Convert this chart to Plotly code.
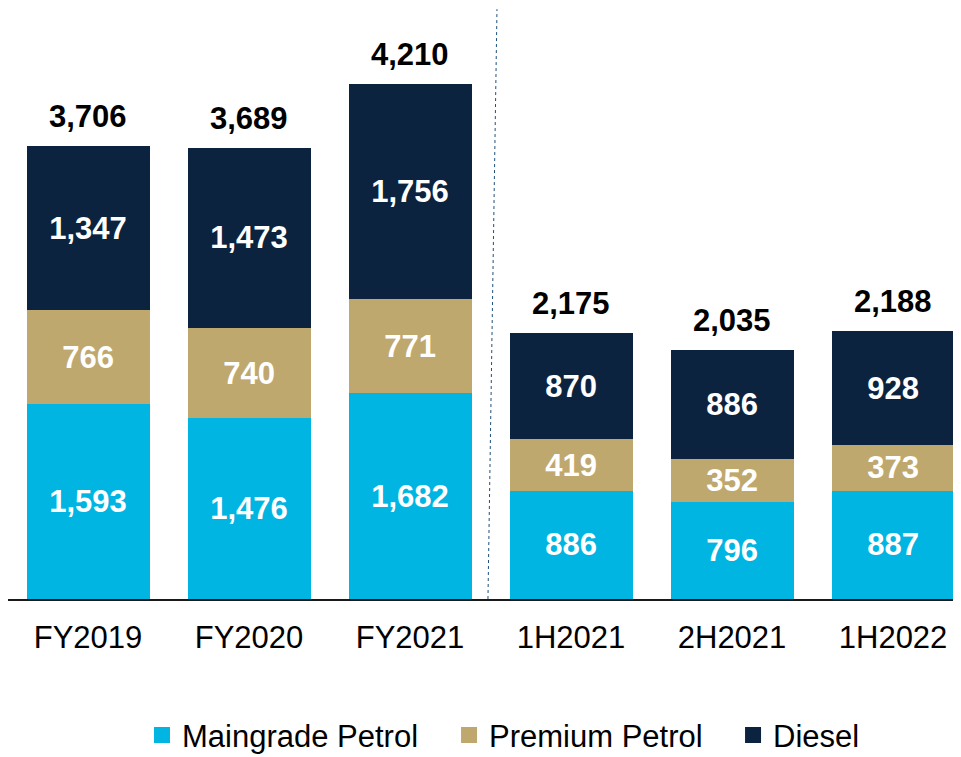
import plotly.graph_objects as go

categories = ["FY2019", "FY2020", "FY2021", "1H2021", "2H2021", "1H2022"]
maingrade = [1593, 1476, 1682, 886, 796, 887]
premium = [766, 740, 771, 419, 352, 373]
diesel = [1347, 1473, 1756, 870, 886, 928]
totals = [3706, 3689, 4210, 2175, 2035, 2188]

series_names = ["Maingrade Petrol", "Premium Petrol", "Diesel"]
series_values = [maingrade, premium, diesel]
colors = ["#00B5E2", "#BFA86E", "#0C2340"]

FONT = "Liberation Sans, Arial, sans-serif"
FS = 31

fig = go.Figure()
for name, vals, col in zip(series_names, series_values, colors):
    fig.add_trace(go.Bar(
        x=categories, y=vals, name=name, marker_color=col, marker_line_width=0,
        text=[f"{v:,}" for v in vals], textposition="inside",
        insidetextanchor="middle",
        textfont=dict(family=FONT, size=FS, color="white", weight="bold"),
        showlegend=False, hoverinfo="skip",
    ))

legend_names = ["legend", "legend2", "legend3"]
for name, col, lg in zip(series_names, colors, legend_names):
    fig.add_trace(go.Scatter(
        x=[None], y=[None], mode="markers", name=name, legend=lg,
        marker=dict(symbol="square", size=16, color=col), showlegend=True,
    ))

annotations = []
for c, t in zip(categories, totals):
    annotations.append(dict(
        x=c, y=t, xref="x", yref="y", text=f"{t:,}", showarrow=False,
        yanchor="bottom", yshift=10,
        font=dict(family=FONT, size=FS, color="black", weight="bold"),
    ))

leg_common = dict(orientation="h", yanchor="middle", yref="container", y=0.029,
                  xanchor="left",
                  font=dict(family=FONT, size=FS, color="black"),
                  bgcolor="rgba(0,0,0,0)", borderwidth=0)

fig.update_layout(
    barmode="stack",
    bargap=0.236,
    width=953, height=749,
    margin=dict(l=0, r=0, t=0, b=158),
    paper_bgcolor="white", plot_bgcolor="white",
    font=dict(family=FONT, size=FS, color="black"),
    uniformtext=dict(minsize=FS, mode="show"),
    annotations=annotations,
    legend=dict(x=0.1406, **leg_common),
    legend2=dict(x=0.4628, **leg_common),
    legend3=dict(x=0.7608, **leg_common),
    xaxis=dict(
        type="category", range=[-0.497, 5.422],
        showline=True, linecolor="#1a1a1a", linewidth=2,
        ticks="", showgrid=False, zeroline=False, automargin=False,
        ticklabelstandoff=10,
        tickfont=dict(family=FONT, size=FS, color="black"),
    ),
    yaxis=dict(range=[0, 4832], visible=False, showgrid=False, zeroline=False),
    shapes=[dict(
        type="line", xref="x", yref="paper", x0=2.484, y0=0, x1=2.540, y1=0.998,
        line=dict(color="#1F4E79", width=1, dash="dot"),
    )],
)

fig.write_html("out.html")
